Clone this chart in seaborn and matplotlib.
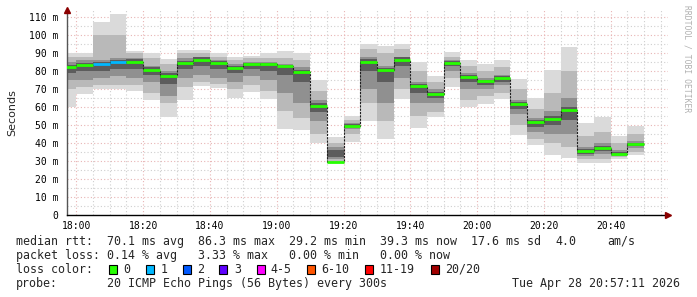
import numpy as np
import pandas as pd
import matplotlib
matplotlib.use("Agg")
import matplotlib.pyplot as plt
from matplotlib.patches import Rectangle
import seaborn as sns

# ---------------- data ----------------
times = ["17:55", "18:00", "18:05", "18:10", "18:15", "18:20", "18:25", "18:30", "18:35",
         "18:40", "18:45", "18:50", "18:55", "19:00", "19:05", "19:10", "19:15", "19:20",
         "19:25", "19:30", "19:35", "19:40", "19:45", "19:50", "19:55", "20:00", "20:05",
         "20:10", "20:15", "20:20", "20:25", "20:30", "20:35", "20:40", "20:45"]
median = [82.0, 83.1, 83.9, 85.0, 85.0, 80.3, 77.4, 84.2, 86.3, 84.2, 81.4, 83.7, 83.7,
          82.6, 79.2, 60.5, 29.2, 49.5, 84.8, 80.3, 86.3, 71.8, 67.3, 84.4, 76.6, 74.2,
          76.3, 61.6, 51.4, 53.4, 58.4, 35.6, 37.3, 34.0, 39.3]
rtt_min = [60.0, 67.0, 70.0, 70.0, 69.0, 64.0, 54.7, 64.0, 71.4, 70.3, 65.0, 68.6, 64.7,
           48.0, 47.3, 39.9, 29.1, 40.8, 52.5, 42.3, 64.4, 48.6, 54.2, 71.1, 59.9, 61.8,
           64.7, 44.5, 38.8, 33.4, 31.4, 28.8, 28.8, 31.2, 33.4]
rtt_p10 = [70, 71, 72, 72, 72, 68, 62, 71, 74, 73, 70, 72, 69, 58, 54, 45, 29.2, 45,
           62, 52, 70, 55, 57, 76, 64, 66, 68, 50, 42, 40, 38, 31, 31, 32, 35]
rtt_p25 = [75, 75, 76, 77, 76, 74, 66, 76, 78, 76, 74, 77, 75, 68, 62, 52, 31, 48,
           70, 62, 76, 62, 62, 80, 70, 70, 72, 56, 46, 45, 45, 33, 34, 33, 37]
rtt_p40 = [79, 80, 80, 81, 81, 78, 73, 81, 83, 81, 79, 81, 80, 78, 74, 57, 32, 49,
           80, 74, 83, 68, 65, 83, 74, 72, 74, 59, 49, 50, 53, 34, 35.5, 33.5, 38.5]
rtt_p60 = [83.5, 84.5, 85, 86, 86.5, 82, 79, 85.5, 87.5, 85.5, 82.5, 84.5, 84.5, 83.5,
           80.5, 62, 36, 50.5, 86.5, 81.5, 87.5, 73, 68.5, 85.5, 78, 75, 77, 62.5,
           52.5, 55, 60, 36.5, 38.5, 35, 40]
rtt_p75 = [85, 86, 86, 87, 87, 83, 80, 87, 88, 86, 84, 85, 85, 84, 82, 64, 38, 51,
           88, 83, 88, 74, 70, 86, 79, 76, 78, 64, 54, 58, 65, 38, 40, 36, 41]
rtt_p90 = [88, 88, 100, 100, 90, 87, 84, 90, 90, 88, 86, 87, 87, 87, 86, 69, 40, 53,
           92, 90, 92, 80, 74, 88, 83, 80, 82, 70, 59, 68, 80, 44, 46, 40, 45]
rtt_max = [90.0, 90.0, 107.0, 111.5, 91.3, 90.0, 86.6, 91.8, 91.8, 90.0, 88.0, 88.5, 90.0,
           90.9, 90.0, 75.1, 43.6, 55.1, 95.0, 93.7, 95.2, 85.2, 77.4, 90.5, 86.3, 83.7,
           86.3, 75.5, 64.9, 80.7, 93.1, 51.0, 54.7, 44.0, 49.2]
loss = [0, 0, 1, 1, 0, 0, 0, 0, 0, 0, 0, 0, 0, 0, 0, 0, 0, 0, 0, 0, 0, 0, 0, 0, 0,
        0, 0, 0, 0, 0, 0, 0, 0, 0, 0]

yticks = [0, 10, 20, 30, 40, 50, 60, 70, 80, 90, 100, 110]
ytick_labels = ["0", "10 m", "20 m", "30 m", "40 m", "50 m", "60 m", "70 m", "80 m",
                "90 m", "100 m", "110 m"]
xtick_labels = ["18:00", "18:20", "18:40", "19:00", "19:20", "19:40", "20:00", "20:20", "20:40"]

loss_names = ["0", "1", "2", "3", "4-5", "6-10", "11-19", "20/20"]
loss_colors = ["#26ff00", "#00b8ff", "#0059ff", "#5e00ff", "#ff00ff", "#ff5500", "#ff0000", "#a00000"]

rtt_items = ["median rtt:", "70.1 ms avg", "86.3 ms max", "29.2 ms min", "39.3 ms now",
             "17.6 ms sd", "4.0", "am/s"]
loss_items = ["packet loss:", "0.14 % avg", "3.33 % max", "0.00 % min", "0.00 % now"]
probe_items = ["probe:", "20 ICMP Echo Pings (56 Bytes) every 300s"]
date_text = "Tue Apr 28 20:57:11 2026"

# ---------------- plotting ----------------
sns.set_style("white")
plt.rcParams["font.family"] = ["DejaVu Sans Mono", "DejaVu Sans"]

W, H = 697, 297
fig = plt.figure(figsize=(W / 100, H / 100), dpi=100)
fig.patch.set_facecolor("white")

def mins(t):
    h, m = t.split(":")
    return (int(h) - 18) * 60 + int(m)

start = np.array([mins(t) for t in times], dtype=float)
xmin, xmax = -2.817, 177.183

ax_l, ax_r, ax_b, ax_t = 67, 668, 215, 10
ax = fig.add_axes([ax_l / W, (H - ax_b) / H, (ax_r - ax_l) / W, (ax_b - ax_t) / H])
ax.set_facecolor("white")
ax.set_xlim(xmin, xmax)
ax.set_ylim(0, (ax_b - ax_t) / 1.8)

# grid
for v in np.arange(5, 111, 5):
    major = v % 10 == 0
    ax.axhline(v, color="#e8b4b4" if major else "#cfcfcf", lw=0.8,
               ls=(0, (1, 2)), zorder=0)
for v in np.arange(0, 176, 5):
    major = v % 20 == 0
    ax.axvline(v, color="#e8b4b4" if major else "#cfcfcf", lw=0.8,
               ls=(0, (1, 2)), zorder=0)

# smoke bands (outer light -> inner dark)
df = pd.DataFrame({"start": start, "lo": rtt_min, "p10": rtt_p10, "p25": rtt_p25,
                   "p40": rtt_p40, "med": median, "p60": rtt_p60, "p75": rtt_p75,
                   "p90": rtt_p90, "hi": rtt_max, "loss": loss})
bands = [("lo", "hi", "#dadada"), ("p10", "p90", "#b9b9b9"),
         ("p25", "p75", "#909090"), ("p40", "p60", "#5c5c5c")]
for lo_c, hi_c, col in bands:
    ax.bar(df["start"], df[hi_c] - df[lo_c], bottom=df[lo_c], width=5, align="edge",
           color=col, linewidth=0, zorder=2)

# median step line
step_df = pd.DataFrame({"x": list(df["start"]) + [df["start"].iloc[-1] + 5],
                        "y": list(df["med"]) + [df["med"].iloc[-1]]})
sns.lineplot(data=step_df, x="x", y="y", drawstyle="steps-post", color="#202020",
             lw=0.8, ls=(0, (2, 1)), ax=ax, zorder=3)
# coloured median marks
ax.hlines(df["med"], df["start"], df["start"] + 5,
          colors=[loss_colors[l] for l in df["loss"]], lw=2.0, zorder=4)

# axes styling
for s in ["top", "right"]:
    ax.spines[s].set_visible(False)
ax.spines["left"].set_color("#555555")
ax.spines["left"].set_linewidth(1.0)
ax.spines["bottom"].set_color("#000000")
ax.spines["bottom"].set_linewidth(1.0)
ax.set_yticks(yticks)
ax.set_yticklabels(ytick_labels)
ax.set_xticks([mins(t) for t in xtick_labels])
ax.set_xticklabels(xtick_labels)
ax.tick_params(axis="both", length=0, labelsize=7, colors="#000000")
ax.tick_params(axis="y", pad=6)
ax.tick_params(axis="x", pad=4)
ax.set_xlabel("")
ax.set_ylabel("Seconds", fontsize=8, labelpad=9, family=["DejaVu Sans"])

# arrows
ax.plot([xmin], [ax.get_ylim()[1]], marker="^", color="#8b0000", ms=4, clip_on=False, zorder=5)
ax.plot([xmax], [0], marker=">", color="#8b0000", ms=4, clip_on=False, zorder=5)

# watermark
fig.text(687 / W, 1 - 5 / H, "RRDTOOL / TOBI OETIKER", rotation=270, fontsize=5.8,
         color="#b0b0b0", ha="center", va="top", family=["DejaVu Sans Mono"])

# legend text
fs = 8.4
def ytext(py):
    return 1 - py / H

rtt_x = [16, 107, 198, 289, 380, 471, 555, 607]
for s, x in zip(rtt_items, rtt_x):
    fig.text(x / W, ytext(241.3), s, fontsize=fs, va="center", ha="left")
loss_x = [16, 107, 198, 289, 380]
for s, x in zip(loss_items, loss_x):
    fig.text(x / W, ytext(255.3), s, fontsize=fs, va="center", ha="left")
fig.text(16 / W, ytext(269.3), "loss color:", fontsize=fs, va="center", ha="left")
box_x = [108.7, 145.7, 182.7, 219.3, 256.7, 307.3, 365.3, 430.7]
lab_x = [123.3, 160.7, 197.3, 234, 270.7, 321.7, 380, 445]
for name, col, bx, lx in zip(loss_names, loss_colors, box_x, lab_x):
    fig.patches.append(Rectangle((bx / W, ytext(269.3) - 4.5 / H), 8 / W, 9 / H,
                                 transform=fig.transFigure, facecolor=col,
                                 edgecolor="black", lw=0.8))
    fig.text(lx / W, ytext(269.3), name, fontsize=fs, va="center", ha="left")
probe_x = [16, 107]
for s, x in zip(probe_items, probe_x):
    fig.text(x / W, ytext(283.7), s, fontsize=fs, va="center", ha="left")
fig.text(680 / W, ytext(283.7), date_text, fontsize=fs, va="center", ha="right")

fig.savefig("out.png", dpi=100, facecolor="white")
